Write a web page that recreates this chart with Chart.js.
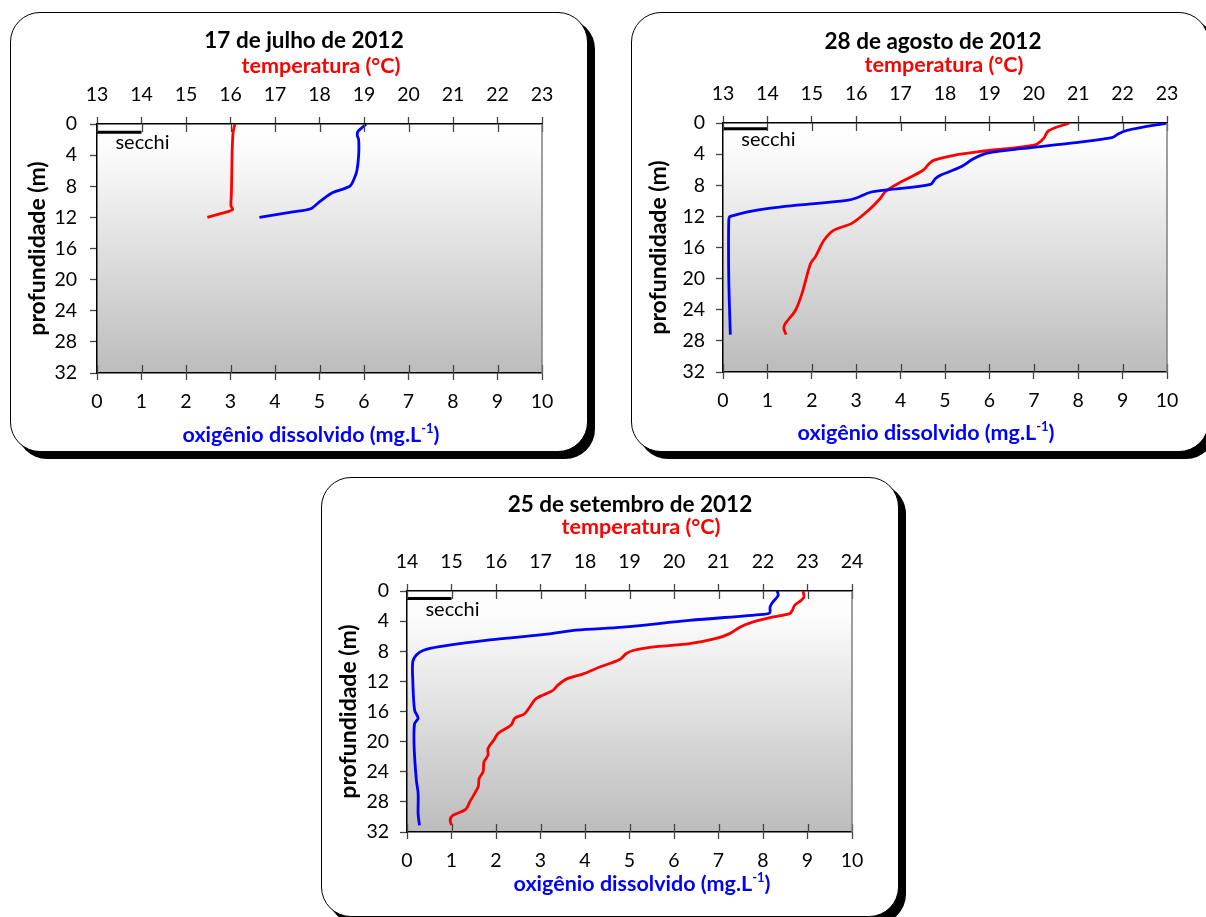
<!DOCTYPE html>
<html>
<head>
<meta charset="utf-8">
<script src="https://cdn.jsdelivr.net/npm/chart.js@4.4.1/dist/chart.umd.min.js"></script>
<style>
  html, body { margin: 0; padding: 0; background: #fff; }
  body { width: 1206px; height: 917px; position: relative; overflow: hidden; font-family: Lato, sans-serif; }
  .box { position: absolute; width: 578px; height: 440px; box-sizing: border-box; border: 1px solid #000; border-radius: 30px; box-shadow: 7px 7px 0 #000; background: #fff; }
  .wrap { position: absolute; width: 578px; height: 440px; }
</style>
</head>
<body>
<script>
// perfis de temperatura e oxigênio dissolvido (profundidade em m)

// 17 de julho de 2012
const julDepthTemp = [0, 1, 3, 6, 9, 10.5, 11, 11.3, 12];
const julTemp = [16.1, 16.06, 16.04, 16.03, 16.02, 16.01, 16.05, 15.92, 15.48];
const julDepthOxy = [0, 0.5, 1, 1.5, 2, 4, 6, 7, 8, 8.8, 9.9, 10.9, 11.3, 12];
const julOxy = [6.05, 5.95, 5.86, 5.85, 5.88, 5.88, 5.84, 5.78, 5.68, 5.3, 5.02, 4.8, 4.4, 3.65];
const julSecchi = 1.05;

// 28 de agosto de 2012
const augDepthTemp = [0, 1.0, 2.0, 2.8, 3.6, 4.15, 4.8, 5.3, 6.1, 7.6, 8.8, 9.7, 11.2, 12.9, 13.8, 15.1, 17.2, 18.1, 21.9, 24.1, 25.8, 26.4, 27.2];
const augTemp = [20.8, 20.33, 20.22, 20.03, 18.87, 18.2, 17.74, 17.63, 17.5, 17.0, 16.66, 16.54, 16.28, 15.9, 15.49, 15.27, 15.08, 14.97, 14.78, 14.63, 14.4, 14.37, 14.42];
const augDepthOxy = [0, 0.94, 1.37, 1.89, 2.66, 3.3, 3.86, 4.16, 4.7, 5.66, 6.7, 7.16, 7.9, 8.6, 8.9, 9.6, 9.94, 11.0, 12.0, 12.5, 20.0, 27.2];
const augOxy = [10.0, 9.1, 8.91, 8.76, 7.75, 6.7, 5.95, 5.8, 5.61, 5.35, 4.9, 4.78, 4.67, 3.69, 3.32, 3.02, 2.79, 0.99, 0.165, 0.13, 0.13, 0.165];
const augSecchi = 0.75;

// 25 de setembro de 2012
const sepDepthTemp = [0, 0.8, 1.24, 1.9, 2.57, 3.0, 3.45, 4.1, 4.8, 5.66, 6.3, 7.0, 7.4, 7.9, 8.3, 9.1, 10.1, 11.0, 11.7, 12.5, 13.2, 14.3, 15.4, 16.3, 16.9, 17.8, 18.9, 19.8, 20.9, 21.8, 22.7, 24.0, 24.9, 26.0, 28.0, 29.0, 29.8, 30.4, 31.1];
const sepTemp = [22.9, 22.92, 22.86, 22.71, 22.66, 22.6, 22.22, 21.78, 21.48, 21.25, 20.95, 20.35, 19.6, 19.08, 18.93, 18.78, 18.33, 17.96, 17.58, 17.39, 17.28, 16.9, 16.76, 16.64, 16.42, 16.34, 16.05, 15.95, 15.82, 15.82, 15.73, 15.71, 15.62, 15.6, 15.41, 15.32, 15.03, 14.97, 15.0];
const sepDepthOxy = [0, 0.6, 1.46, 2.1, 2.9, 3.1, 3.9, 4.8, 5.2, 5.7, 6.5, 7.4, 7.9, 8.5, 9.4, 11.9, 15.8, 16.9, 17.6, 20.7, 25.1, 26.9, 29.6, 31.1];
const sepOxy = [8.32, 8.34, 8.22, 8.16, 8.15, 8.0, 6.35, 4.85, 3.8, 3.2, 1.86, 0.73, 0.36, 0.21, 0.13, 0.13, 0.17, 0.25, 0.17, 0.16, 0.21, 0.25, 0.25, 0.28];
const sepSecchi = 1.0;

// eixos
const oxyTicks = [0, 10, 1];
const depthTicks = [0, 32, 4];
const tempRangeJulAug = [13, 23];
const tempRangeSep = [14, 24];

const titleTemp = "temperatura (°C)";
const titleOxy = "oxigênio dissolvido (mg.L";
const titleOxySup = "-1";
const titleDepth = "profundidade (m)";
const secchiLabel = "secchi";

const W = 578, H = 440;

// posição de cada painel na página
const panels = [
  { title: "17 de julho de 2012", tRange: tempRangeJulAug, dT: julDepthTemp, t: julTemp, dO: julDepthOxy, o: julOxy, secchi: julSecchi,
    box: [10, 12], area: [97, 124, 542, 373], titleXY: [304, 41], tempXY: [321, 66], oxyXY: [311, 435], yPad: 13 },
  { title: "28 de agosto de 2012", tRange: tempRangeJulAug, dT: augDepthTemp, t: augTemp, dO: augDepthOxy, o: augOxy, secchi: augSecchi,
    box: [631, 12], area: [723, 123, 1167, 372], titleXY: [933, 42], tempXY: [944, 65], oxyXY: [926, 433], yPad: 11 },
  { title: "25 de setembro de 2012", tRange: tempRangeSep, dT: sepDepthTemp, t: sepTemp, dO: sepDepthOxy, o: sepOxy, secchi: sepSecchi,
    box: [321, 477], area: [407, 591, 852, 832], titleXY: [630, 505], tempXY: [641, 527], oxyXY: [642, 884], yPad: 11 },
];

const FONT = "Lato";
const SUB_SIZE = 21.5;

const panelDecor = {
  id: "panelDecor",
  beforeDraw(chart, args, opts) {
    const { ctx, chartArea: a } = chart;
    const g = ctx.createLinearGradient(0, a.top, 0, a.bottom);
    g.addColorStop(0, "#ffffff");
    g.addColorStop(0.1, "#fcfcfc");
    g.addColorStop(1, "#bcbcbc");
    ctx.save();
    ctx.fillStyle = g;
    ctx.fillRect(a.left, a.top, a.right - a.left, a.bottom - a.top);
    ctx.restore();
  },
  afterDraw(chart, args, opts) {
    const { ctx, chartArea: a } = chart;
    const p = opts.panel;
    const bx = p.box[0], by = p.box[1];
    ctx.save();

    // marcas internas dos eixos x
    ctx.strokeStyle = "#444";
    ctx.lineWidth = 1.3;
    ["xt", "x"].forEach((id) => {
      const s = chart.scales[id];
      s.ticks.forEach((t) => {
        const px = Math.round(s.getPixelForValue(t.value)) + 0.5;
        ctx.beginPath();
        if (id === "xt") { ctx.moveTo(px, a.top); ctx.lineTo(px, a.top + 8); }
        else { ctx.moveTo(px, a.bottom - 8); ctx.lineTo(px, a.bottom); }
        ctx.stroke();
      });
    });

    // borda direita
    ctx.strokeStyle = "#7f7f7f";
    ctx.lineWidth = 1.5;
    ctx.beginPath();
    ctx.moveTo(a.right, a.top);
    ctx.lineTo(a.right, a.bottom);
    ctx.stroke();

    // secchi
    const sx = chart.scales.x.getPixelForValue(1);
    const sy = chart.scales.y.getPixelForValue(p.secchi);
    ctx.fillStyle = "#000";
    ctx.font = "20px " + FONT;
    ctx.textAlign = "center";
    ctx.textBaseline = "alphabetic";
    ctx.fillText(secchiLabel, sx + 1, sy + 17);

    // títulos
    ctx.textBaseline = "middle";
    ctx.font = "bold 22.5px " + FONT;
    ctx.fillText(p.title, p.titleXY[0] - bx, p.titleXY[1] - by);

    ctx.fillStyle = "#ff0000";
    ctx.font = "bold " + SUB_SIZE + "px " + FONT;
    ctx.fillText(titleTemp, p.tempXY[0] - bx, p.tempXY[1] - by);

    ctx.fillStyle = "#0000ff";
    ctx.font = "bold " + SUB_SIZE + "px " + FONT;
    const w1 = ctx.measureText(titleOxy).width;
    const w3 = ctx.measureText(")").width;
    ctx.font = "bold 13px " + FONT;
    const w2 = ctx.measureText(titleOxySup).width;
    let x = p.oxyXY[0] - bx - (w1 + w2 + w3) / 2;
    const y = p.oxyXY[1] - by;
    ctx.textAlign = "left";
    ctx.font = "bold " + SUB_SIZE + "px " + FONT;
    ctx.fillText(titleOxy, x, y);
    x += w1;
    ctx.font = "bold 13px " + FONT;
    ctx.fillText(titleOxySup, x, y - 6);
    x += w2;
    ctx.font = "bold " + SUB_SIZE + "px " + FONT;
    ctx.fillText(")", x, y);

    ctx.restore();
  },
};

function toPoints(depths, values) {
  return depths.map((d, i) => ({ x: values[i], y: d }));
}

panels.forEach((p, i) => {
  const box = document.createElement("div");
  box.className = "box";
  box.style.left = p.box[0] + "px";
  box.style.top = p.box[1] + "px";
  document.body.appendChild(box);

  const wrap = document.createElement("div");
  wrap.className = "wrap";
  wrap.style.left = p.box[0] + "px";
  wrap.style.top = p.box[1] + "px";
  const canvas = document.createElement("canvas");
  canvas.width = W;
  canvas.height = H;
  wrap.appendChild(canvas);
  document.body.appendChild(wrap);

  const aLeft = p.area[0] - p.box[0];
  const aTop = p.area[1] - p.box[1];
  const aRight = p.area[2] - p.box[0];
  const aBottom = p.area[3] - p.box[1];

  const tickFont = { family: FONT, size: 19.5 };
  const gridX = { drawOnChartArea: false, drawTicks: true, tickLength: 7, tickColor: "#444", tickWidth: 1.3 };

  new Chart(canvas.getContext("2d"), {
    type: "scatter",
    data: {
      datasets: [
        {
          label: "oxigênio",
          data: toPoints(p.dO, p.o),
          xAxisID: "x",
          yAxisID: "y",
          showLine: true,
          borderColor: "#0000ff",
          borderWidth: 2.8,
          pointRadius: 0,
          tension: 0.3,
        },
        {
          label: "temperatura",
          data: toPoints(p.dT, p.t),
          xAxisID: "xt",
          yAxisID: "y",
          showLine: true,
          borderColor: "#ff0000",
          borderWidth: 2.8,
          pointRadius: 0,
          tension: 0.3,
        },
        {
          label: "secchi",
          data: [{ x: 0, y: p.secchi }, { x: 1, y: p.secchi }],
          xAxisID: "x",
          yAxisID: "y",
          showLine: true,
          borderColor: "#000",
          borderWidth: 3,
          pointRadius: 0,
        },
      ],
    },
    options: {
      responsive: false,
      animation: false,
      devicePixelRatio: 1,
      events: [],
      layout: { padding: { left: 0, top: 0, right: W - aRight, bottom: 0 } },
      plugins: {
        legend: { display: false },
        tooltip: { enabled: false },
        panelDecor: { panel: p },
      },
      scales: {
        x: {
          type: "linear",
          position: "bottom",
          min: oxyTicks[0],
          max: oxyTicks[1],
          ticks: { stepSize: oxyTicks[2], font: tickFont, color: "#000", padding: 9.8, maxRotation: 0 },
          grid: gridX,
          border: { color: "#000", width: 1.5 },
          afterFit: (s) => { s.height = H - aBottom; },
        },
        xt: {
          type: "linear",
          position: "top",
          min: p.tRange[0],
          max: p.tRange[1],
          ticks: { stepSize: 1, font: tickFont, color: "#000", padding: 10.3, maxRotation: 0 },
          grid: gridX,
          border: { color: "#000", width: 1.5 },
          afterFit: (s) => { s.height = aTop; },
        },
        y: {
          type: "linear",
          reverse: true,
          min: depthTicks[0],
          max: depthTicks[1],
          ticks: { stepSize: depthTicks[2], font: tickFont, color: "#000", padding: p.yPad },
          grid: { drawOnChartArea: false, drawTicks: true, tickLength: 7, tickColor: "#444", tickWidth: 1.3 },
          border: { color: "#000", width: 1.5 },
          title: { display: true, text: titleDepth, color: "#000", font: { family: FONT, size: 23, weight: "bold" }, padding: { top: 14, bottom: 0 } },
          afterFit: (s) => { s.width = aLeft; },
        },
      },
    },
    plugins: [panelDecor],
  });
});
</script>
</body>
</html>
